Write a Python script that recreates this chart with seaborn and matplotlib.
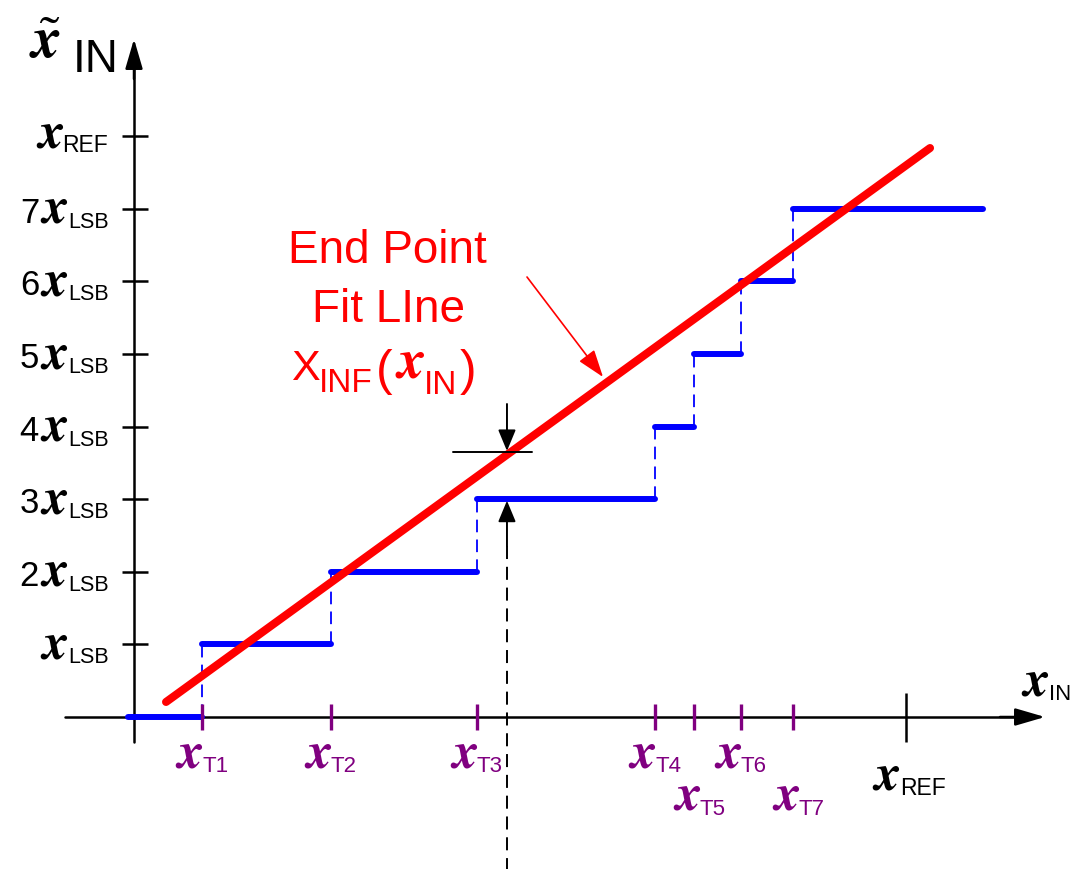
import matplotlib
matplotlib.use("Agg")
import matplotlib.pyplot as plt
import pandas as pd
import seaborn as sns

# Values in LSB units (x axis: x_REF = 8, y axis: one step = 1 LSB)
levels = [0, 1, 2, 3, 4, 5, 6, 7]
transitions = [0.705, 2.041, 3.554, 5.399, 5.803, 6.290, 6.829]
t_names = ["T1", "T2", "T3", "T4", "T5", "T6", "T7"]
t_lower_row = ["T5", "T7"]
step_start, step_end = -0.06, 8.80
x_ref = 8.0
y_ref = 8.0
y_digits = ["", "2", "3", "4", "5", "6", "7"]
fit_x = [0.332, 8.249]
fit_y = [0.207, 7.837]
gap_x = 3.865
gap_fit = 3.650

# Layout: figure pixels <-> data units
PX0, PXU = 134, 96.5
PY0, PYU = 718, 72.6


def X(px):
    return (px - PX0) / PXU


def Y(py):
    return (PY0 - py) / PYU


sns.set_theme(style="white")
plt.rcParams["font.family"] = ["Liberation Sans", "DejaVu Sans"]
plt.rcParams["mathtext.fontset"] = "custom"
plt.rcParams["mathtext.it"] = "STIXGeneral:italic:bold"
plt.rcParams["mathtext.rm"] = "STIXGeneral"

purple = "#800080"
blue = "#0000FF"
red = "#FF0000"

fig = plt.figure(figsize=(10.72, 8.7), dpi=100)
ax = fig.add_axes([0, 0, 1, 1])
ax.set_xlim(X(0), X(1072))
ax.set_ylim(Y(870), Y(0))
ax.set_axis_off()

arrow_big = dict(arrowstyle="-|>,head_length=1.3,head_width=0.38",
                 mutation_scale=14, lw=1.8, color="black", shrinkA=0, shrinkB=0)
arrow_small = dict(arrowstyle="-|>,head_length=1.3,head_width=0.54",
                   mutation_scale=10, lw=1.4, color="black", shrinkA=0, shrinkB=0)

# Axes with arrows
ax.plot([0, 0], [Y(743), Y(60)], color="black", lw=1.8, zorder=2)
ax.annotate("", xy=(0, Y(40)), xytext=(0, Y(80)), arrowprops=arrow_big)
ax.plot([X(65), X(1025)], [0, 0], color="black", lw=1.8, zorder=2)
ax.annotate("", xy=(X(1045), 0), xytext=(X(1000), 0), arrowprops=arrow_big)

# y ticks
ax.hlines(levels[1:] + [y_ref], X(122), X(148), color="black", lw=1.8)
# x ticks
ax.vlines(transitions, Y(731), Y(705), color=purple, lw=2.4, zorder=4)
ax.vlines([x_ref], Y(743), Y(694), color="black", lw=1.8)

# Transfer characteristic steps
rows = []
for i, lvl in enumerate(levels):
    x0 = step_start if i == 0 else transitions[i - 1]
    x1 = transitions[i] if i < len(transitions) else step_end
    rows.append({"x": x0, "y": lvl, "seg": i})
    rows.append({"x": x1, "y": lvl, "seg": i})
steps = pd.DataFrame(rows)
sns.lineplot(data=steps, x="x", y="y", units="seg", estimator=None, sort=False,
             color=blue, lw=4.3, solid_capstyle="round", ax=ax, legend=False,
             zorder=3)
ax.vlines(transitions, levels[:-1], levels[1:], colors=blue, lw=1.3,
          linestyles=[(0, (7, 4))], zorder=3)

# End point fit line
sns.lineplot(x=fit_x, y=fit_y, color=red, lw=5.8, solid_capstyle="round",
             ax=ax, zorder=5)

# Gap dimension
ax.annotate("", xy=(gap_x, Y(452)), xytext=(gap_x, Y(405)),
            arrowprops=arrow_small, zorder=6)
ax.plot([X(453), X(532)], [gap_fit, gap_fit], color="black", lw=1.4, zorder=6)
ax.annotate("", xy=(gap_x, levels[3] - 0.02), xytext=(gap_x, Y(547)),
            arrowprops=arrow_small, zorder=6)
ax.plot([gap_x, gap_x], [Y(547), Y(870)], color="black", lw=1.4,
        ls=(0, (6.7, 4)), zorder=6)

# Pointer to the fit line
ax.annotate("", xy=(X(603), Y(378)), xytext=(X(527), Y(278)),
            arrowprops=dict(arrowstyle="-|>,head_length=1.3,head_width=0.45",
                            mutation_scale=13, lw=1.2, color=red,
                            shrinkA=0, shrinkB=0), zorder=6)


def txt(px, py, s, size, color="black", ha="left", **kw):
    ax.text(X(px), Y(py), s, fontsize=size, color=color, ha=ha,
            va="baseline", **kw)


XG = 37  # size of the italic x glyph

# y axis labels
for lvl, d in zip(levels[1:], y_digits):
    py = PY0 - lvl * PYU
    if d:
        txt(39, py + 13, d, 25, ha="right")
    txt(54, py + 13, "$x$", XG, ha="center")
    txt(68, py + 18, "LSB", 15.5)
py_ref = PY0 - y_ref * PYU
txt(50, py_ref + 10, "$x$", XG, ha="center")
txt(62, py_ref + 15, "REF", 16.5)

# y axis title
txt(45, 58, r"$\tilde{x}$", 42, ha="center")
txt(73, 72, "IN", 33)

# x axis labels
for t, name in zip(transitions, t_names):
    px = PX0 + t * PXU
    low = name in t_lower_row
    shift = 6 if low else 0
    base = 810 if low else 767
    txt(px + shift + 1, base, "$x$", XG, color=purple, ha="right")
    txt(px + shift, base + 5, name, 16, color=purple)
txt(900, 790, "$x$", XG, ha="right")
txt(900, 795, "REF", 16.5)
txt(1049, 695, "$x$", XG, ha="right")
txt(1049, 700, "IN", 16)

# Fit line caption
txt(387, 263, "End Point", 33, color=red, ha="center")
txt(388, 322, "Fit LIne", 33, color=red, ha="center")
txt(291, 380, "X", 31, color=red)
txt(319, 392, "INF", 24, color=red)
txt(376, 385, "(", 36, color=red)
txt(395, 378, "$x$", 40, color=red)
txt(424, 394, "IN", 24, color=red)
txt(460, 385, ")", 36, color=red)

fig.savefig("out.png", dpi=100)
